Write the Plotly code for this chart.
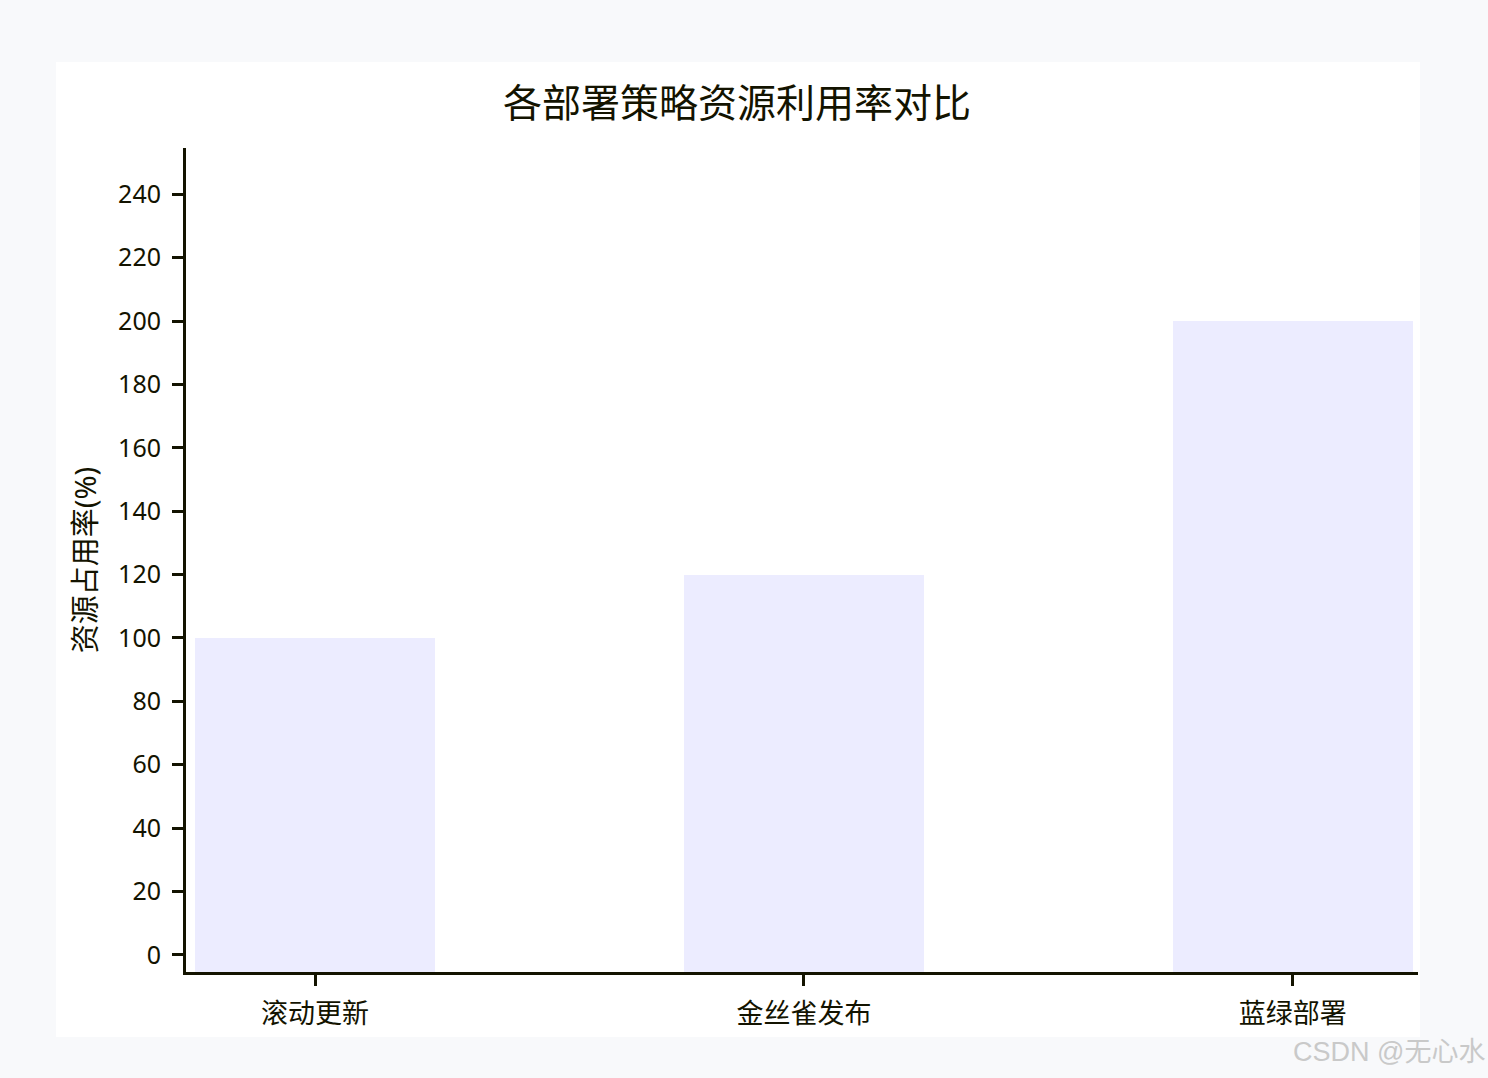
import plotly.graph_objects as go

# data
strategies = ["滚动更新", "金丝雀发布", "蓝绿部署"]
usage = [100, 120, 200]
y_ticks = [0, 20, 40, 60, 80, 100, 120, 140, 160, 180, 200, 220, 240]

# axis floor (bars start from the bottom of the plot, like the original)
y_min = -5.4
y_max = 254.6

ink = "#131300"
font_family = "Noto Sans, Noto Sans CJK SC"

fig = go.Figure()
fig.add_trace(go.Bar(
    x=strategies,
    y=[v - y_min for v in usage],
    base=y_min,
    customdata=usage,
    hovertemplate="%{x}: %{customdata}<extra></extra>",
    marker=dict(color="#ECECFF", line=dict(width=0)),
    width=0.49,
))

# white card behind the chart
fig.add_shape(
    type="rect", xref="paper", yref="paper",
    x0=-0.1055, x1=1.0016, y0=-0.0789, y1=1.1044,
    fillcolor="white", line=dict(width=0), layer="below",
)

# watermark
fig.add_annotation(
    text="CSDN @无心水", xref="paper", yref="paper",
    x=1.056, y=-0.097, xanchor="right", yanchor="middle",
    showarrow=False,
    font=dict(size=27, color="#c9c9c9", family="Liberation Sans, Noto Sans CJK SC"),
)

fig.update_layout(
    width=1488,
    height=1078,
    paper_bgcolor="#f8f9fb",
    plot_bgcolor="rgba(0,0,0,0)",
    showlegend=False,
    font=dict(family=font_family, color=ink),
    title=dict(
        text="各部署策略资源利用率对比",
        x=0.4953, xanchor="center",
        y=0.9045, yanchor="middle",
        font=dict(size=39, color=ink),
    ),
    margin=dict(l=186, r=70, t=148, b=106),
    bargap=0,
)

fig.update_xaxes(
    range=[-0.264, 2.256],
    showline=True, linewidth=3, linecolor=ink,
    ticks="outside", ticklen=11, tickwidth=3, tickcolor=ink,
    tickfont=dict(size=27, color=ink),
    ticklabelstandoff=5,
    showgrid=False, zeroline=False,
)

fig.update_yaxes(
    range=[y_min, y_max],
    tickvals=y_ticks,
    showline=True, linewidth=3, linecolor=ink,
    ticks="outside", ticklen=11, tickwidth=3, tickcolor=ink,
    tickfont=dict(size=25, color=ink),
    ticklabelstandoff=6,
    showgrid=False, zeroline=False,
    title=dict(text="资源占用率(%)", font=dict(size=29, color=ink), standoff=13),
)

fig.write_html(
    "out.html",
    config={"displayModeBar": False},
    post_script="document.body.style.margin='0';document.body.style.background='#f8f9fb';",
)
